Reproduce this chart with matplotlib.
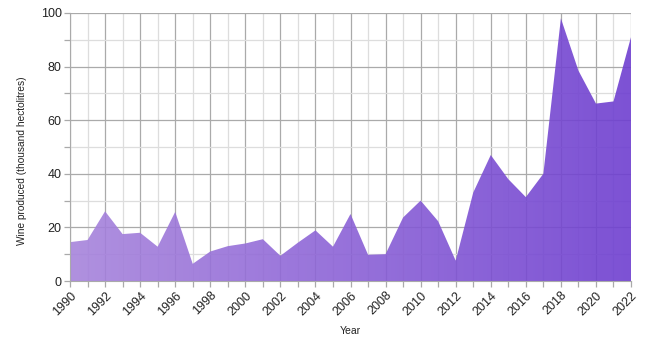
import matplotlib
matplotlib.use("Agg")
import matplotlib.pyplot as plt
import numpy as np
from matplotlib.colors import LinearSegmentedColormap

years = list(range(1990, 2023))
wine = [14.5, 15.3, 26.0, 17.5, 18.0, 12.8, 25.8, 6.4, 11.0, 13.0, 14.0, 15.6,
        9.4, 14.3, 18.9, 12.8, 25.0, 9.8, 10.0, 23.7, 30.0, 22.3, 7.6, 33.0,
        47.0, 38.0, 31.3, 40.0, 98.0, 78.5, 66.2, 67.0, 91.0]
xticks = list(range(1990, 2023, 2))
yticks = [0, 20, 40, 60, 80, 100]

plt.rcParams['font.family'] = ['Liberation Sans', 'DejaVu Sans']

fig = plt.figure(figsize=(6.5, 3.54), dpi=100)
ax = fig.add_axes([0.1077, 0.2062, 0.8631, 0.7571])

ax.set_xlim(years[0], years[-1])
ax.set_ylim(0, 100)

# grid
ax.set_xticks(xticks)
ax.set_xticks(years, minor=True)
ax.set_yticks(yticks)
ax.set_yticks(range(0, 101, 10), minor=True)
ax.grid(True, which='major', color='#aaaaaa', linewidth=0.9, zorder=0)
ax.grid(True, which='minor', color='#dddddd', linewidth=0.9, zorder=0)
ax.set_axisbelow(True)

# gradient fill
poly = ax.fill_between(years, wine, 0, color='none', zorder=2)
cmap = LinearSegmentedColormap.from_list('p', ['#a784dc', '#6e3ed0'])
grad = np.linspace(0, 1, 256).reshape(1, -1)
im = ax.imshow(grad, cmap=cmap, aspect='auto', extent=[years[0], years[-1], 0, 100],
               origin='lower', zorder=2, alpha=0.9)
path = poly.get_paths()[0]
im.set_clip_path(path, transform=ax.transData)

for s in ['top', 'right']:
    ax.spines[s].set_visible(False)
ax.spines['left'].set_color('#aaaaaa')
ax.spines['bottom'].set_color('#aaaaaa')
ax.axhline(100, color='#aaaaaa', linewidth=1.2, zorder=1)

ax.tick_params(axis='both', which='both', color='#aaaaaa', length=4, width=0.9)
ax.tick_params(axis='x', which='major', labelsize=9, pad=2)
ax.tick_params(axis='y', which='major', labelsize=9, pad=2)
ax.set_xticklabels([str(y) for y in xticks], rotation=45, ha='right', va='top',
                   rotation_mode='anchor', color='#222222')
ax.set_yticklabels([str(v) for v in yticks], color='#222222')

ax.set_xlabel('Year', fontsize=7.5, color='#222222', labelpad=6)
fig.text(22 / 650, 1 - 161 / 354, 'Wine produced (thousand hectolitres)', fontsize=7.3,
         color='#222222', rotation=90, ha='center', va='center')

fig.savefig('out.png', dpi=100)
